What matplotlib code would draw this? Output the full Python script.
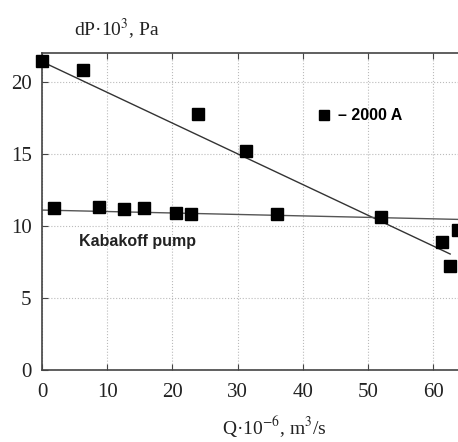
import matplotlib
matplotlib.use("Agg")
import matplotlib.pyplot as plt
from matplotlib.lines import Line2D

plt.rcParams["font.family"] = ["Liberation Serif", "DejaVu Serif"]
plt.rcParams["mathtext.fontset"] = "stix"

# ----- data -----
q_2000 = [0, 6.3, 23.9, 31.3, 52.0, 61.3, 62.6, 63.8]
dp_2000 = [21.45, 20.85, 17.75, 15.2, 10.6, 8.9, 7.25, 9.7]

q_kab = [1.8, 8.7, 12.6, 15.6, 20.5, 22.8, 36.0]
dp_kab = [11.25, 11.3, 11.2, 11.25, 10.9, 10.85, 10.8]

# trend lines (end points as drawn)
fit_x_2000 = [0, 62.6]
fit_y_2000 = [21.4, 8.05]
fit_x_kab = [0, 64]
fit_y_kab = [11.1, 10.45]

xticks = [0, 10, 20, 30, 40, 50, 60]
yticks = [0, 5, 10, 15, 20]

fig = plt.figure(figsize=(4.58, 4.42), dpi=100)
ax = fig.add_axes([42 / 458, 72 / 442, 416 / 458, 317 / 442])

ax.plot(fit_x_2000, fit_y_2000, color="#333333", lw=1.0, zorder=2)
ax.plot(fit_x_kab, fit_y_kab, color="#555555", lw=1.0, zorder=2)
ax.plot(q_2000, dp_2000, "ks", ms=8.5, zorder=3, clip_on=False)
ax.plot(q_kab, dp_kab, "ks", ms=8.5, zorder=3)

ax.set_xlim(0, 63.8)
ax.set_ylim(0, 22)
ax.set_xticks(xticks)
ax.set_yticks(yticks)
ax.grid(True, color="#bbbbbb", linestyle=":", linewidth=0.8)
ax.spines["right"].set_visible(False)
for s in ["top", "bottom", "left"]:
    ax.spines[s].set_color("#444444")
    ax.spines[s].set_linewidth(1.2)
ax.tick_params(direction="in", length=4, top=True, labelsize=15,
               color="#444444", labelcolor="#222222")
ax.tick_params(axis="x", pad=9.5)
ax.tick_params(axis="y", pad=7.5)

ax.text(5.7, 8.9, "Kabakoff pump", fontsize=11.5, fontweight="bold",
        family=["Liberation Sans", "DejaVu Sans"], va="center", color="#222222")

handle = Line2D([], [], color="k", marker="s", ls="none", ms=7.5)
leg = ax.legend([handle], ["\u2013 2000 A"], loc="center left",
                bbox_to_anchor=(303 / 458, 1 - 116 / 442),
                bbox_transform=fig.transFigure, frameon=False,
                handlelength=0.8, handletextpad=0.5,
                prop={"family": "Liberation Sans", "weight": "bold", "size": 11.5})

fig.text(117 / 458, 1 - 29 / 442, "dP\u00b710$^3$, Pa", fontsize=14,
         ha="center", va="center", color="#222222")
fig.text(274 / 458, 1 - 427 / 442, "Q\u00b710$^{-6}$, m$^3$/s", fontsize=14,
         ha="center", va="center", color="#222222")

fig.savefig("out.png", dpi=100)
